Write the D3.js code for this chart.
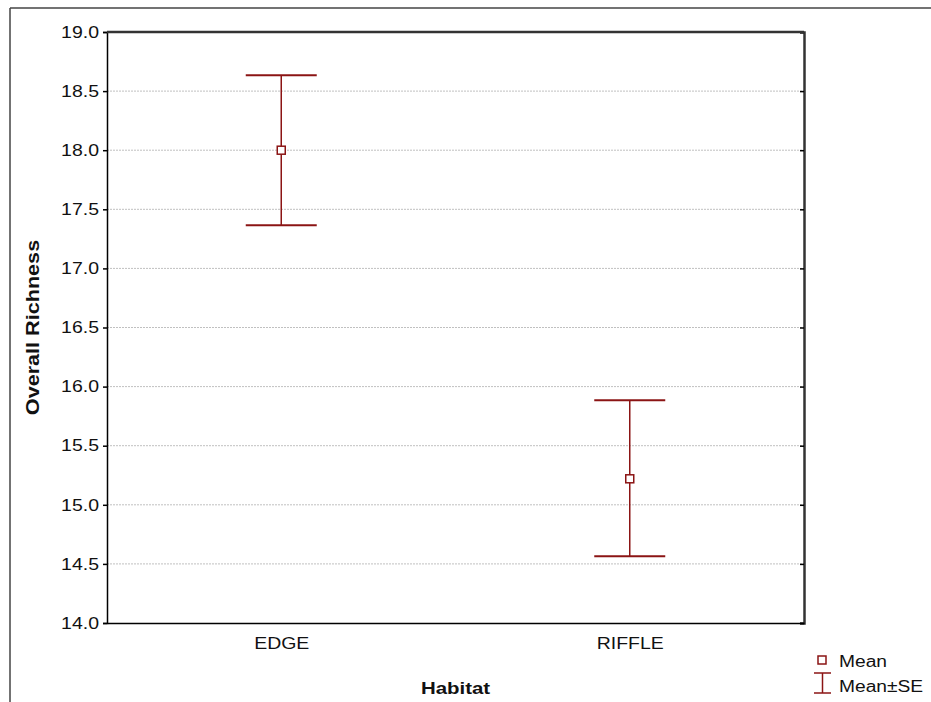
<!DOCTYPE html>
<html>
<head>
<meta charset="utf-8">
<script src="https://cdn.jsdelivr.net/npm/d3@7"></script>
<style>
  body { margin: 0; background: #fff; }
  text { font-family: "Liberation Sans", Arial, sans-serif; fill: #111; }
</style>
</head>
<body>
<svg id="chart"></svg>
<script>
var WIDTH = 931;
var HEIGHT = 702;
var LEFT = 107, RIGHT = 804, TOP = 32, BOTTOM = 623;
var RED = "#8b1414";

var CATEGORIES = ["EDGE", "RIFFLE"];
var MEANS = [18.0, 15.22];
var UPPER = [18.635, 15.885];
var LOWER = [17.365, 14.565];
var Y_TICKS = [14.0, 14.5, 15.0, 15.5, 16.0, 16.5, 17.0, 17.5, 18.0, 18.5, 19.0];

// the original text is a bit wider than plain Arial, stretch it
function stretch(sel, f) {
  sel.each(function () {
    var len = this.getComputedTextLength();
    d3.select(this).attr("textLength", len * (f || 1.2)).attr("lengthAdjust", "spacingAndGlyphs");
  });
}

var svg = d3.select("#chart").attr("width", WIDTH).attr("height", HEIGHT);

// outer frame, clipped at right and bottom like the original
svg.append("line").attr("x1", 10).attr("y1", 8).attr("x2", WIDTH).attr("y2", 8)
  .attr("stroke", "#444").attr("stroke-width", 1.5);
svg.append("line").attr("x1", 10).attr("y1", 8).attr("x2", 10).attr("y2", HEIGHT)
  .attr("stroke", "#444").attr("stroke-width", 1.5);

var x = d3.scalePoint().domain(CATEGORIES).range([LEFT, RIGHT]).padding(0.5);
var y = d3.scaleLinear().domain([14, 19]).range([BOTTOM, TOP]);

// gridlines
svg.append("g").selectAll("line").data(Y_TICKS.slice(1, -1)).enter().append("line")
  .attr("x1", LEFT).attr("x2", RIGHT)
  .attr("y1", function (d) { return y(d); }).attr("y2", function (d) { return y(d); })
  .attr("stroke", "#c0c0c0").attr("stroke-width", 1).attr("stroke-dasharray", "2,1");

// left axis
var yAxis = d3.axisLeft(y).tickValues(Y_TICKS).tickFormat(d3.format(".1f")).tickSize(4).tickPadding(4);
var gy = svg.append("g").attr("transform", "translate(" + LEFT + ",0)").call(yAxis);
gy.select(".domain").attr("stroke", "#000").attr("stroke-width", 1.5);
gy.selectAll(".tick line").attr("stroke", "#000").attr("stroke-width", 1.5);
gy.selectAll(".tick text").attr("font-size", 16.5).attr("fill", "#111")
  .attr("font-family", "Liberation Sans, Arial, sans-serif");
stretch(gy.selectAll(".tick text"), 1.18);

// right axis ticks point inward
var gr = svg.append("g").attr("transform", "translate(" + RIGHT + ",0)")
  .call(d3.axisLeft(y).tickValues(Y_TICKS).tickSize(4).tickFormat(""));
gr.select(".domain").attr("stroke", "#333").attr("stroke-width", 2.5);
gr.selectAll(".tick line").attr("stroke", "#000").attr("stroke-width", 1.5);

// top line
svg.append("line").attr("x1", LEFT).attr("x2", RIGHT).attr("y1", TOP).attr("y2", TOP)
  .attr("stroke", "#333").attr("stroke-width", 2.5);

// bottom axis
var xAxis = d3.axisBottom(x).tickSize(0).tickPadding(14);
var gx = svg.append("g").attr("transform", "translate(0," + BOTTOM + ")").call(xAxis);
gx.select(".domain").attr("stroke", "#000").attr("stroke-width", 1.5);
gx.selectAll(".tick text").attr("font-size", 16.5).attr("fill", "#111")
  .attr("font-family", "Liberation Sans, Arial, sans-serif");
stretch(gx.selectAll(".tick text"), 1.18);

// error bars
var CAP = 35.5;
var idx = d3.range(CATEGORIES.length);
var bars = svg.append("g").selectAll("g").data(idx).enter().append("g");
bars.append("line")
  .attr("x1", function (i) { return x(CATEGORIES[i]); }).attr("x2", function (i) { return x(CATEGORIES[i]); })
  .attr("y1", function (i) { return y(UPPER[i]); }).attr("y2", function (i) { return y(LOWER[i]); })
  .attr("stroke", RED).attr("stroke-width", 1.5);
[UPPER, LOWER].forEach(function (arr) {
  bars.append("line")
    .attr("x1", function (i) { return x(CATEGORIES[i]) - CAP; }).attr("x2", function (i) { return x(CATEGORIES[i]) + CAP; })
    .attr("y1", function (i) { return y(arr[i]); }).attr("y2", function (i) { return y(arr[i]); })
    .attr("stroke", RED).attr("stroke-width", 2);
});
bars.append("rect")
  .attr("x", function (i) { return x(CATEGORIES[i]) - 4; })
  .attr("y", function (i) { return y(MEANS[i]) - 4; })
  .attr("width", 8).attr("height", 8)
  .attr("fill", "#fff").attr("stroke", RED).attr("stroke-width", 1.5);

// axis titles
var xt = svg.append("text").attr("x", (LEFT + RIGHT) / 2).attr("y", 694)
  .attr("text-anchor", "middle").attr("font-size", 17).attr("font-weight", "bold").text("Habitat");
stretch(xt);
var yt = svg.append("text").attr("transform", "translate(39," + ((TOP + BOTTOM) / 2) + ") rotate(-90)")
  .attr("text-anchor", "middle").attr("font-size", 18).attr("font-weight", "bold").text("Overall Richness");
stretch(yt, 1.2);

// legend
var lg = svg.append("g");
lg.append("rect").attr("x", 818).attr("y", 656).attr("width", 8).attr("height", 8)
  .attr("fill", "#fff").attr("stroke", RED).attr("stroke-width", 1.5);
lg.append("line").attr("x1", 822.5).attr("x2", 822.5).attr("y1", 673).attr("y2", 693).attr("stroke", RED).attr("stroke-width", 1.5);
lg.append("line").attr("x1", 814).attr("x2", 831).attr("y1", 673).attr("y2", 673).attr("stroke", RED).attr("stroke-width", 1.5);
lg.append("line").attr("x1", 814).attr("x2", 831).attr("y1", 693).attr("y2", 693).attr("stroke", RED).attr("stroke-width", 1.5);
var l1 = lg.append("text").attr("x", 839).attr("y", 667).attr("font-size", 16).text("Mean");
var l2 = lg.append("text").attr("x", 839).attr("y", 692).attr("font-size", 16).text("Mean\u00b1SE");
stretch(l1); stretch(l2);
</script>
</body>
</html>
